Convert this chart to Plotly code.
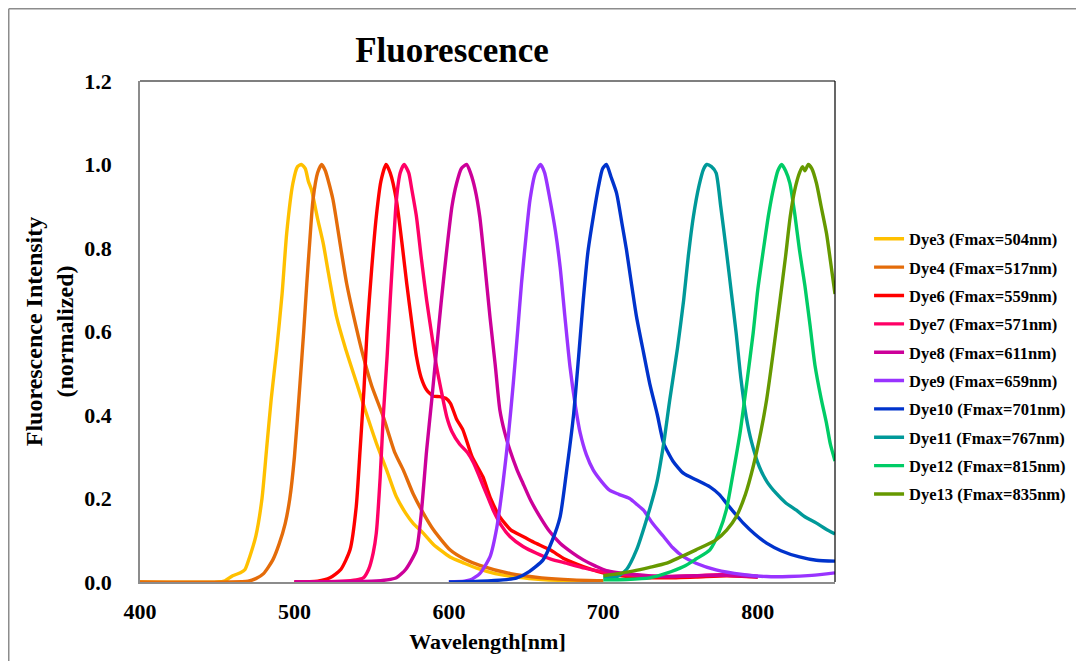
import plotly.graph_objects as go

# ---------------- data ----------------
dye_names = [
    "Dye3 (Fmax=504nm)", "Dye4 (Fmax=517nm)", "Dye6 (Fmax=559nm)", "Dye7 (Fmax=571nm)",
    "Dye8 (Fmax=611nm)", "Dye9 (Fmax=659nm)", "Dye10 (Fmax=701nm)", "Dye11 (Fmax=767nm)",
    "Dye12 (Fmax=815nm)", "Dye13 (Fmax=835nm)",
]
dye_colors = ["#FFC000", "#E46C0A", "#FF0000", "#FF0066", "#CC0099",
              "#9933FF", "#0033CC", "#009999", "#00CC66", "#669900"]

dye3_wl = [400, 450, 455, 460, 465, 468, 471, 475, 479, 482, 485, 488.5, 492, 495, 499, 502, 504.5,
           507, 509, 511, 515, 518.7, 522, 527.3, 533, 540.3, 546, 553, 560, 566, 572, 577, 583.4,
           590, 600.7, 610, 618, 630, 645, 660, 680, 700]
dye3_y = [0, 0, 0.003, 0.015, 0.022, 0.03, 0.06, 0.11, 0.2, 0.32, 0.44, 0.556, 0.69, 0.836, 0.955,
          0.995, 1.0, 0.99, 0.96, 0.94, 0.87, 0.81, 0.74, 0.635, 0.56, 0.476, 0.41, 0.333, 0.265,
          0.204, 0.165, 0.14, 0.117, 0.09, 0.06, 0.045, 0.033, 0.02, 0.011, 0.006, 0.003, 0.002]

dye4_wl = [400, 470, 475, 480, 486, 490, 494, 497, 500, 503.6, 506, 508, 510, 512, 515, 517.6,
           520, 522, 525, 530, 533.8, 540, 544.6, 550, 557.5, 565, 570.5, 577, 583.4, 590, 600.7,
           610, 620, 640, 660, 680, 700]
dye4_y = [0, 0.002, 0.008, 0.02, 0.053, 0.09, 0.14, 0.2, 0.3, 0.476, 0.6, 0.715, 0.82, 0.915, 0.98,
          1.0, 0.985, 0.96, 0.915, 0.8, 0.715, 0.61, 0.54, 0.47, 0.396, 0.31, 0.268, 0.21, 0.165,
          0.125, 0.077, 0.055, 0.04, 0.02, 0.01, 0.005, 0.003]

dye6_wl = [500, 515, 523, 530, 536, 540, 542.5, 545, 547, 550, 553, 556, 559.3, 562, 566, 570,
           572.7, 576, 579, 582, 585.6, 590, 594, 598, 601, 605, 609, 615, 622, 627, 633, 640, 648,
           655, 665.5, 675, 687, 702, 720, 740, 760, 780, 800]
dye6_y = [0, 0.002, 0.01, 0.03, 0.077, 0.18, 0.316, 0.46, 0.6, 0.75, 0.875, 0.96, 1.0, 0.98, 0.915,
          0.8, 0.715, 0.62, 0.54, 0.49, 0.46, 0.445, 0.444, 0.44, 0.428, 0.39, 0.365, 0.3, 0.252,
          0.2, 0.156, 0.125, 0.109, 0.095, 0.077, 0.055, 0.037, 0.02, 0.012, 0.01, 0.012, 0.015,
          0.012]

dye7_wl = [500, 530, 540, 544.6, 548, 551, 553, 555.5, 557.5, 560, 562, 564, 566, 568.5, 571, 574,
           576, 579, 582, 585.6, 589, 592, 595.5, 598.6, 602, 607, 612, 616, 620, 625, 628.7, 634,
           639.5, 648, 656.7, 666, 676, 688, 700, 720, 740, 760, 780, 800]
dye7_y = [0, 0.002, 0.005, 0.01, 0.03, 0.07, 0.117, 0.25, 0.396, 0.54, 0.675, 0.8, 0.915, 0.98,
          1.0, 0.98, 0.94, 0.875, 0.78, 0.675, 0.59, 0.516, 0.45, 0.396, 0.36, 0.33, 0.31, 0.285,
          0.25, 0.205, 0.172, 0.135, 0.109, 0.085, 0.069, 0.055, 0.045, 0.033, 0.024, 0.016,
          0.013, 0.015, 0.018, 0.014]

dye8_wl = [500, 550, 560, 566, 572, 579, 582, 585.6, 589, 592, 595, 598.6, 602, 605, 608, 611.5,
           614, 617, 620, 623, 626.6, 630, 633, 636, 639.5, 644, 648, 653, 659, 665, 672, 680, 687,
           695, 702, 720, 740, 760, 780, 800]
dye8_y = [0, 0.002, 0.005, 0.01, 0.03, 0.077, 0.16, 0.316, 0.44, 0.556, 0.67, 0.795, 0.9, 0.955,
          0.99, 1.0, 0.98, 0.94, 0.875, 0.77, 0.635, 0.52, 0.412, 0.36, 0.316, 0.27, 0.236, 0.195,
          0.156, 0.122, 0.093, 0.07, 0.053, 0.038, 0.027, 0.018, 0.013, 0.015, 0.016, 0.012]

dye9_wl = [600, 610, 614, 620, 626.6, 631, 635, 638.5, 641.7, 644.5, 647, 650, 652.5, 656, 659.4,
           662, 665.5, 669, 672, 675, 678.4, 682, 685, 689, 693.5, 699, 704, 710, 717, 722, 726,
           732, 739, 745, 752, 760, 773, 790, 805.7, 820, 835, 850]
dye9_y = [0, 0.002, 0.005, 0.02, 0.06, 0.13, 0.236, 0.35, 0.476, 0.6, 0.715, 0.83, 0.915, 0.98,
          1.0, 0.98, 0.915, 0.84, 0.755, 0.64, 0.516, 0.42, 0.357, 0.305, 0.268, 0.24, 0.22, 0.21,
          0.2, 0.185, 0.172, 0.14, 0.109, 0.082, 0.06, 0.045, 0.029, 0.018, 0.013, 0.013, 0.016,
          0.022]

dye10_wl = [600, 620, 635, 644, 652, 661, 667, 672, 676, 680.6, 684, 687, 690, 693.5, 697, 699.5,
            702, 705, 708.6, 712, 715, 718, 721.5, 726, 730, 735, 739, 745, 752, 760, 769, 775,
            779.6, 785, 790.6, 798, 805.7, 815, 827, 838, 850]
dye10_y = [0, 0.002, 0.005, 0.01, 0.025, 0.053, 0.1, 0.156, 0.26, 0.396, 0.54, 0.675, 0.79,
           0.875, 0.95, 0.99, 1.0, 0.97, 0.931, 0.86, 0.795, 0.72, 0.635, 0.55, 0.476, 0.4, 0.333,
           0.29, 0.26, 0.245, 0.228, 0.21, 0.189, 0.165, 0.141, 0.115, 0.093, 0.075, 0.06, 0.052,
           0.05]

dye11_wl = [700, 708.6, 715, 721.5, 728, 734.5, 739, 743, 748, 752, 755, 758.3, 762, 765, 767,
            770, 773, 776, 779.6, 783, 786, 789, 792.5, 796, 801, 806, 812, 818, 825, 831, 838,
            844, 850]
dye11_y = [0.012, 0.012, 0.03, 0.077, 0.15, 0.236, 0.33, 0.436, 0.56, 0.675, 0.78, 0.875, 0.95,
           0.99, 1.0, 0.995, 0.98, 0.9, 0.795, 0.69, 0.596, 0.49, 0.396, 0.335, 0.276, 0.24,
           0.212, 0.19, 0.172, 0.155, 0.141, 0.127, 0.115]

dye12_wl = [700, 715, 730, 740, 752, 760, 769, 775, 779.6, 784, 788.5, 793, 797, 800, 803.6, 807,
            810, 813, 815.5, 818, 820.8, 824, 827, 830.5, 834, 837, 841, 844.5, 847, 850]
dye12_y = [0.005, 0.006, 0.01, 0.02, 0.037, 0.055, 0.077, 0.12, 0.172, 0.26, 0.357, 0.48, 0.596,
           0.7, 0.795, 0.88, 0.94, 0.985, 1.0, 0.985, 0.955, 0.88, 0.795, 0.71, 0.61, 0.52, 0.44,
           0.38, 0.33, 0.29]

dye13_wl = [700, 710, 719, 730, 741, 750, 760, 773, 780, 786, 792, 797, 802, 805.7, 810, 814.4,
            818, 821, 824, 827, 829, 830.5, 832.7, 835, 838, 841, 844.5, 847, 850]
dye13_y = [0.015, 0.02, 0.026, 0.035, 0.045, 0.06, 0.077, 0.101, 0.125, 0.156, 0.21, 0.276, 0.36,
           0.436, 0.55, 0.675, 0.78, 0.875, 0.94, 0.98, 0.995, 0.985, 1.0, 0.99, 0.955, 0.9, 0.835,
           0.77, 0.69]

all_wl = [dye3_wl, dye4_wl, dye6_wl, dye7_wl, dye8_wl, dye9_wl, dye10_wl, dye11_wl, dye12_wl, dye13_wl]
all_y = [dye3_y, dye4_y, dye6_y, dye7_y, dye8_y, dye9_y, dye10_y, dye11_y, dye12_y, dye13_y]

x_ticks = [400, 500, 600, 700, 800]
y_ticks = [0.0, 0.2, 0.4, 0.6, 0.8, 1.0, 1.2]

# ---------------- figure ----------------
FONT = "Liberation Serif, Times New Roman, serif"
fig = go.Figure()
for i, (name, col, wl, yy) in enumerate(zip(dye_names, dye_colors, all_wl, all_y)):
    fig.add_trace(go.Scatter(
        x=wl, y=yy, mode="lines", name=name, legendgroup=f"g{i}",
        line=dict(color=col, width=3.4, shape="spline", smoothing=0.6),
    ))

# page has an 8px body margin on every side: figure sized so the page fits the window exactly
W, H = 1068, 653
L, R, T, B = 132, 241, 73, 79
pw, ph = W - L - R, H - T - B

fig.update_layout(
    width=W, height=H,
    margin=dict(l=L, r=R, t=T, b=B, autoexpand=False),
    paper_bgcolor="white", plot_bgcolor="white",
    font=dict(family=FONT, color="black", size=18, weight="bold"),
    title=dict(text="Fluorescence", x=444 / W, xanchor="center", xref="container",
               y=1 - 42 / H, yanchor="middle", yref="container",
               font=dict(family=FONT, size=35, weight="bold", color="black")),
    xaxis=dict(range=[400, 850], tickvals=x_ticks, ticktext=[str(v) for v in x_ticks],
               showgrid=False, zeroline=False, showline=True, linecolor="#8c8c8c", linewidth=1.5,
               ticks="", ticklabelstandoff=9, automargin=False,
               tickfont=dict(family=FONT, size=22, weight="bold"),
               title=dict(text="Wavelength[nm]", standoff=10,
                          font=dict(family=FONT, size=22, weight="bold"))),
    yaxis=dict(range=[0, 1.2], tickvals=y_ticks, ticktext=[f"{v:.1f}" for v in y_ticks],
               showgrid=False, zeroline=False, showline=True, linecolor="#8c8c8c", linewidth=1.5,
               ticks="", ticklabelstandoff=22, automargin=False,
               tickfont=dict(family=FONT, size=22, weight="bold"),
               title=dict(text="Fluorescence Intensity<br>(normalized)", standoff=4,
                          font=dict(family=FONT, size=24, weight="bold"))),
    legend=dict(x=1.049, xanchor="left", y=0.43, yanchor="middle",
                traceorder="grouped", tracegroupgap=3.9, itemwidth=30,
                font=dict(family=FONT, size=16.5, weight="bold", color="black"),
                bgcolor="rgba(0,0,0,0)"),
    showlegend=True,
)

# plot frame (top/right black) and outer chart border (gray)
fig.add_shape(type="line", xref="x domain", yref="y domain", x0=0, x1=1, y0=1, y1=1,
              line=dict(color="black", width=1.2))
fig.add_shape(type="line", xref="x domain", yref="y domain", x0=1, x1=1, y0=0, y1=1,
              line=dict(color="black", width=1.2))
fig.add_shape(type="line", xref="paper", yref="paper",
              x0=(0.75 - L) / pw, x1=(W - L) / pw, y0=(ph + T - 0.75) / ph, y1=(ph + T - 0.75) / ph,
              line=dict(color="#8c8c8c", width=1.5))
fig.add_shape(type="line", xref="paper", yref="paper",
              x0=(0.75 - L) / pw, x1=(0.75 - L) / pw, y0=(ph + T - 0.75) / ph, y1=-B / ph,
              line=dict(color="#8c8c8c", width=1.5))

fig.write_html("out.html")
